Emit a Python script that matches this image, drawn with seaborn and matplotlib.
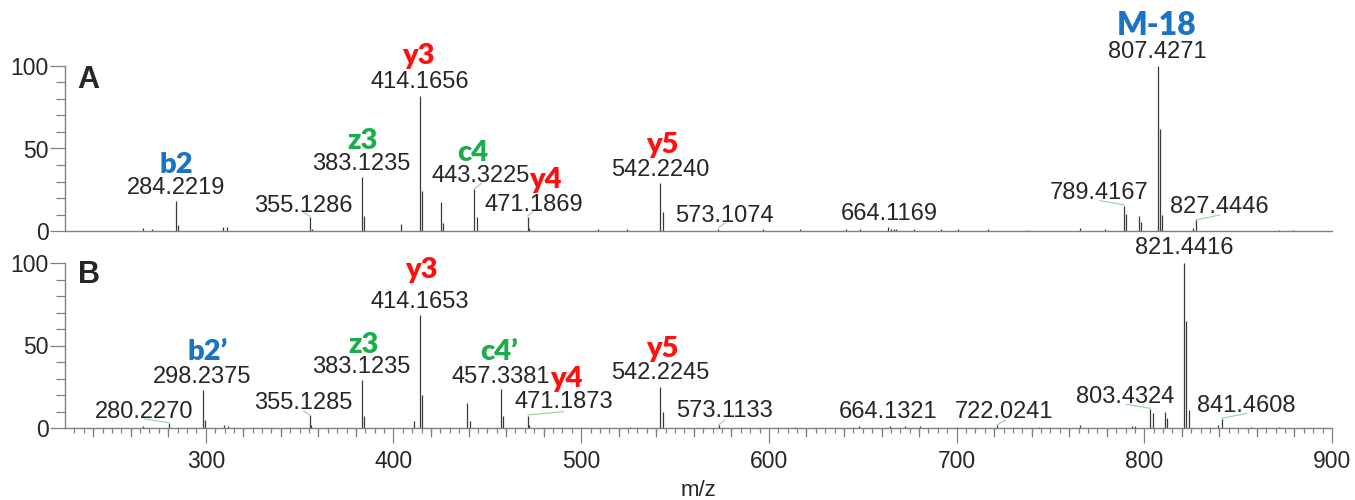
import numpy as np
import pandas as pd
import matplotlib
matplotlib.use("Agg")
import matplotlib.pyplot as plt
import seaborn as sns

# ---- spectrum A (m/z, relative abundance) ----
mz_a = [266.5, 271.3, 284.3, 285.3, 309.0, 311.3, 355.7, 356.6, 383.2, 384.1,
        404.0, 414.3, 415.2, 425.1, 426.4, 443.1, 444.5, 471.4, 472.3, 509.0,
        524.4, 542.1, 543.4, 573.0, 597.0, 616.7, 641.0, 648.6, 663.6, 665.0,
        666.5, 667.8, 677.5, 691.7, 700.5, 716.5, 737.8, 765.6, 779.3, 789.4,
        790.5, 797.2, 798.3, 807.1, 808.6, 809.5, 826.2, 827.3, 871.5, 879.4]
int_a = [2.0, 1.0, 18.0, 3.5, 2.5, 2.5, 8.7, 1.5, 33.0, 9.0,
         4.0, 82.0, 24.0, 17.6, 4.8, 25.6, 8.5, 8.5, 2.0, 1.0,
         1.0, 29.0, 11.3, 1.5, 1.0, 1.0, 1.0, 1.0, 2.4, 1.5,
         1.5, 1.0, 1.0, 1.0, 1.0, 1.0, 0.5, 2.0, 1.5, 15.0,
         10.5, 8.9, 5.5, 100.0, 62.0, 9.5, 2.0, 6.5, 0.8, 0.5]

# ---- spectrum B ----
mz_b = [266.5, 280.2, 298.5, 299.7, 309.9, 311.7, 355.3, 356.0, 383.2, 384.1,
        410.7, 414.3, 415.2, 439.2, 440.5, 457.4, 458.3, 471.6, 472.3, 526.0,
        542.1, 543.5, 573.2, 614.0, 648.0, 664.6, 672.5, 680.5, 700.0, 721.4,
        744.0, 765.6, 793.5, 794.8, 803.2, 804.4, 811.2, 812.3, 821.3, 822.4,
        823.6, 839.5, 841.4, 857.0, 871.5]
int_b = [1.0, 3.2, 23.2, 5.0, 2.0, 1.5, 7.9, 2.0, 29.3, 7.5,
         4.4, 68.7, 20.0, 15.2, 4.0, 23.6, 7.5, 7.4, 2.0, 0.8,
         24.6, 9.5, 1.8, 0.8, 1.0, 1.5, 1.0, 1.0, 0.5, 1.8,
         0.5, 2.0, 1.5, 1.0, 11.5, 9.0, 9.5, 6.0, 100.0, 65.0,
         10.7, 2.0, 5.5, 0.5, 0.8]

# ---- ion labels ----
ion_a_text = ["b2", "z3", "y3", "c4", "y4", "y5", "M-18"]
ion_a_x = [284.3, 383.4, 413.4, 442.1, 481.0, 543.0, 806.8]
ion_a_y = [35.2, 49.7, 101.2, 42.4, 26.0, 47.3, 118.8]
ion_a_col = ["blue", "green", "red", "green", "red", "red", "blue"]

ion_b_text = ["b2\u2019", "z3", "y3", "c4\u2019", "y4", "y5"]
ion_b_x = [301.1, 384.1, 414.6, 456.4, 492.2, 543.5]
ion_b_y = [41.2, 45.3, 90.7, 41.2, 25.0, 43.2]
ion_b_col = ["blue", "green", "red", "green", "red", "red"]

# ---- mass labels ----
mass_a_text = ["284.2219", "355.1286", "383.1235", "414.1656", "443.3225", "471.1869",
               "542.2240", "573.1074", "664.1169", "789.4167", "807.4271", "827.4446"]
mass_a_x = [284.2, 352.0, 383.0, 413.8, 446.3, 474.5, 542.4, 576.2, 663.9, 775.9, 806.7, 840.2]
mass_a_y = [22.4, 11.5, 37.0, 86.7, 29.7, 12.1, 33.3, 5.5, 6.7, 19.4, 104.8, 10.9]

mass_b_text = ["280.2270", "298.2375", "355.1285", "383.1235", "414.1653", "457.3381",
               "471.1873", "542.2245", "573.1133", "664.1321", "722.0241", "803.4324",
               "821.4416", "841.4608"]
mass_b_x = [267.1, 298.0, 352.0, 383.0, 413.8, 456.9, 490.5, 542.4, 576.4, 663.6, 725.0,
            790.0, 821.2, 854.4]
mass_b_y = [6.3, 27.5, 11.3, 33.1, 72.5, 27.5, 11.9, 29.5, 6.5, 5.9, 5.9, 15.4, 105.5, 9.9]

# ---- green leader lines (x0, y0) -> (x1, y1) ----
lead_a_x0 = [352.1, 443.1, 471.4, 573.2, 776.2, 827.3]
lead_a_y0 = [11.3, 25.6, 9.0, 2.0, 18.4, 6.7]
lead_a_x1 = [355.7, 447.0, 474.3, 576.8, 789.4, 840.1]
lead_a_y1 = [8.7, 29.0, 11.7, 5.0, 15.8, 9.7]

lead_b_x0 = [267.2, 352.1, 471.6, 573.2, 721.5, 790.4, 841.4]
lead_b_y0 = [5.5, 10.3, 7.9, 1.8, 1.8, 14.4, 5.9]
lead_b_x1 = [280.2, 355.3, 490.6, 576.4, 726.0, 803.2, 854.7]
lead_b_y1 = [3.2, 7.9, 9.9, 4.8, 4.8, 11.9, 8.9]

colors = {"blue": "#1a74c4", "red": "#ff1010", "green": "#1aae4b"}

sns.set_style("ticks")
plt.rcParams['font.family'] = ['Liberation Sans', 'DejaVu Sans']

fig = plt.figure(figsize=(13.55, 5.0), dpi=100)
ax_a = fig.add_axes([65 / 1355, 1 - 231 / 500, 1267 / 1355, 165 / 500])
ax_b = fig.add_axes([65 / 1355, 1 - 428 / 500, 1267 / 1355, 165 / 500])


def draw_panel(ax, mz, inten, ion_t, ion_x, ion_y, ion_c, m_t, m_x, m_y,
               lx0, ly0, lx1, ly1, letter, letter_y):
    df = pd.DataFrame({"mz": mz, "rel": inten})
    ax.vlines(df["mz"], 0, df["rel"], color="#3a3a3a", lw=0.9)
    for x0, y0, x1, y1 in zip(lx0, ly0, lx1, ly1):
        ax.plot([x0, x1], [y0, y1], color="#8fd49c", lw=0.8)
    for t, x, y, c in zip(ion_t, ion_x, ion_y, ion_c):
        ax.text(x, y, t, color=colors[c], ha="center", va="baseline",
                fontsize=23 if t == "M-18" else 21, fontweight="heavy",
                family=["Lato", "DejaVu Sans"], clip_on=False)
    for t, x, y in zip(m_t, m_x, m_y):
        ax.text(x, y, t, ha="center", va="baseline", fontsize=17, clip_on=False)
    ax.text(0.010, letter_y, letter, transform=ax.transAxes, fontsize=22,
            fontweight="bold", va="center", ha="left")
    ax.set_xlim(225, 900)
    ax.set_ylim(0, 100)
    sns.despine(ax=ax)
    for s in ["left", "bottom"]:
        ax.spines[s].set_color("#808080")
        ax.spines[s].set_linewidth(1.0)
    ax.set_yticks([0, 50, 100])
    ax.set_yticks(range(0, 101, 10), minor=True)
    ax.tick_params(axis="y", which="major", length=10.8, width=0.9, color="#808080",
                   labelsize=16.5, pad=1)
    ax.tick_params(axis="y", which="minor", length=6.5, width=0.9, color="#808080")


draw_panel(ax_a, mz_a, int_a, ion_a_text, ion_a_x, ion_a_y, ion_a_col,
           mass_a_text, mass_a_x, mass_a_y,
           lead_a_x0, lead_a_y0, lead_a_x1, lead_a_y1, "A", 0.915)
draw_panel(ax_b, mz_b, int_b, ion_b_text, ion_b_x, ion_b_y, ion_b_col,
           mass_b_text, mass_b_x, mass_b_y,
           lead_b_x0, lead_b_y0, lead_b_x1, lead_b_y1, "B", 0.927)

# top panel: no x ticks
ax_a.tick_params(axis="x", which="both", bottom=False, labelbottom=False)

# bottom panel: major 100, medium 20, minor 5
ax_b.set_xticks(range(300, 901, 100))
ax_b.set_xticks(range(230, 901, 5), minor=True)
ax_b.tick_params(axis="x", which="major", length=10.8, width=0.9, color="#808080",
                 labelsize=16.5, pad=5)
ax_b.tick_params(axis="x", which="minor", length=3.6, width=0.9, color="#808080")
sec = ax_b.secondary_xaxis("bottom")
sec.set_xticks([t for t in range(240, 901, 20) if t % 100 != 0])
sec.tick_params(axis="x", length=6.5, width=0.9, color="#808080", labelbottom=False)
sec.spines["bottom"].set_visible(False)
ax_b.set_xlabel("m/z", fontsize=16, labelpad=5)

fig.savefig("out.png", dpi=100)
